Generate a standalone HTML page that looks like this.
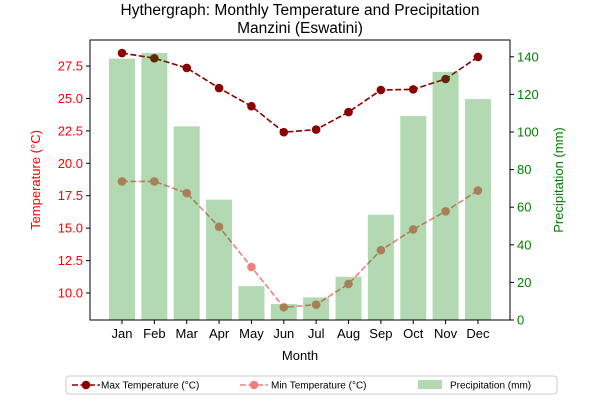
<!DOCTYPE html>
<html><head><meta charset="utf-8"><style>
body{margin:0;background:#fff;font-family:"Liberation Sans",sans-serif}
</style></head><body>
<svg id="c" width="600" height="400" xmlns="http://www.w3.org/2000/svg" font-family="Liberation Sans, sans-serif"></svg>
<script>
const months=["Jan","Feb","Mar","Apr","May","Jun","Jul","Aug","Sep","Oct","Nov","Dec"];
const maxTemp=[28.5,28.1,27.35,25.8,24.4,22.4,22.6,23.95,25.65,25.7,26.5,28.2];
const minTemp=[18.6,18.6,17.7,15.1,12.0,8.9,9.1,10.7,13.3,14.9,16.3,17.9];
const precip=[139,142,103,64,18,8.5,12,23,56,108.5,132,117.5];
const leftTicks=[10.0,12.5,15.0,17.5,20.0,22.5,25.0,27.5];
const rightTicks=[0,20,40,60,80,100,120,140];
const svg=document.getElementById('c');const NS="http://www.w3.org/2000/svg";
function el(t,a,p){const e=document.createElementNS(NS,t);for(const k in a)e.setAttribute(k,a[k]);(p||svg).appendChild(e);return e;}
const L=90,R=510,T=40,B=320;
const x=i=>122+i*32.36;
const yL=v=>293-(v-10)*12.97;
const yR=v=>320-v*1.88;
function series(vals,color,name){
 const pts=vals.map((v,i)=>x(i)+','+yL(v)).join(' ');
 const pl=el('polyline',{points:pts,fill:'none',stroke:color,'stroke-width':1.6,'stroke-dasharray':'6,2.5'});
 
 
 vals.forEach((v,i)=>{const c=el('circle',{cx:x(i),cy:yL(v),r:4.3,fill:color});
 
 });
}
series(maxTemp,'#8b0000','max-temp');
series(minTemp,'#f08080','min-temp');
precip.forEach((v,i)=>{const r=el('rect',{x:x(i)-13,y:yR(v),width:26,height:B-yR(v),fill:'green','fill-opacity':0.3});

});
el('rect',{x:L,y:T,width:R-L,height:B-T,fill:'none',stroke:'#000','stroke-width':1});
leftTicks.forEach(v=>{const y=yL(v);el('line',{x1:L-4,x2:L,y1:y,y2:y,stroke:'#000'});
 const t=el('text',{x:L-7,y:y+4.5,'text-anchor':'end','font-size':13,fill:'red'});t.textContent=v.toFixed(1);});
rightTicks.forEach(v=>{const y=yR(v);el('line',{x1:R,x2:R+4,y1:y,y2:y,stroke:'#000'});
 const t=el('text',{x:R+7,y:y+4.5,'font-size':13,fill:'green'});t.textContent=v;});
months.forEach((m,i)=>{el('line',{x1:x(i),x2:x(i),y1:B,y2:B+4,stroke:'#000'});
 const t=el('text',{x:x(i),y:B+18,'text-anchor':'middle','font-size':13});t.textContent=m;});
let t=el('text',{x:300,y:15,'text-anchor':'middle','font-size':15.5});t.textContent='Hythergraph: Monthly Temperature and Precipitation';

t=el('text',{x:300,y:33,'text-anchor':'middle','font-size':15.5});t.textContent='Manzini (Eswatini)';
t=el('text',{x:300,y:360,'text-anchor':'middle','font-size':13});t.textContent='Month';

t=el('text',{x:0,y:0,'text-anchor':'middle','font-size':13,fill:'red',transform:'translate(40,180) rotate(-90)'});t.textContent='Temperature (°C)';

t=el('text',{x:0,y:0,'text-anchor':'middle','font-size':13,fill:'green',transform:'translate(563,180) rotate(-90)'});t.textContent='Precipitation (mm)';

const lg=el('g',{});
el('rect',{x:66,y:376,width:491,height:18,rx:3,fill:'#fff',stroke:'#ccc'},lg);
el('line',{x1:72,x2:100,y1:385,y2:385,stroke:'#8b0000','stroke-width':1.6,'stroke-dasharray':'6,2.5'},lg);
el('circle',{cx:86,cy:385,r:4.3,fill:'#8b0000'},lg);
t=el('text',{x:101,y:388.5,'font-size':10},lg);t.textContent='Max Temperature (°C)';
el('line',{x1:240,x2:268,y1:385,y2:385,stroke:'#f08080','stroke-width':1.6,'stroke-dasharray':'6,2.5'},lg);
el('circle',{cx:254,cy:385,r:4.3,fill:'#f08080'},lg);
t=el('text',{x:271,y:388.5,'font-size':10},lg);t.textContent='Min Temperature (°C)';
el('rect',{x:418,y:380,width:24,height:9,fill:'green','fill-opacity':0.3},lg);
t=el('text',{x:450,y:388.5,'font-size':10},lg);t.textContent='Precipitation (mm)';
</script>
</body></html>
